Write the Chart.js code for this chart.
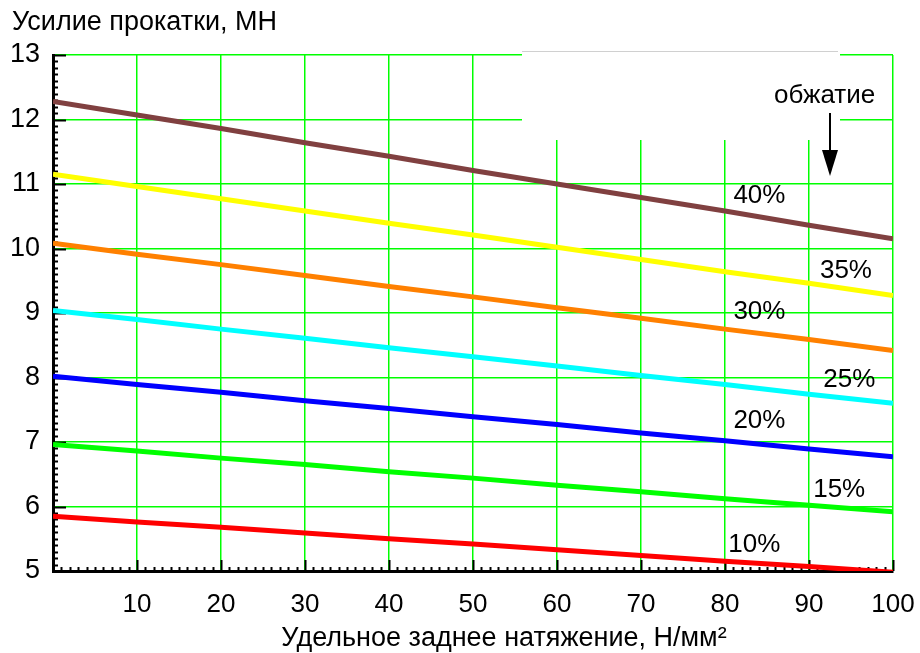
<!DOCTYPE html>
<html lang="ru">
<head>
<meta charset="utf-8">
<title>Усилие прокатки</title>
<script src="https://cdn.jsdelivr.net/npm/chart.js@4"></script>
<style>
  html, body { margin: 0; padding: 0; background: #fff; }
  #wrap { width: 920px; height: 653px; position: relative; }
</style>
</head>
<body>
<div id="wrap"><canvas id="chart"></canvas></div>
<script>
// Удельное заднее натяжение, Н/мм2
const X_VALUES = [0, 10, 20, 30, 40, 50, 60, 70, 80, 90, 100];

// Усилие прокатки, МН, per reduction
const SERIES_NAMES = ["10%", "15%", "20%", "25%", "30%", "35%", "40%"];
const FORCE_10 = [5.85, 5.76, 5.68, 5.59, 5.50, 5.42, 5.33, 5.24, 5.15, 5.07, 4.98];
const FORCE_15 = [6.96, 6.86, 6.75, 6.65, 6.54, 6.44, 6.33, 6.23, 6.12, 6.02, 5.92];
const FORCE_20 = [8.02, 7.89, 7.77, 7.64, 7.52, 7.39, 7.27, 7.14, 7.02, 6.89, 6.77];
const FORCE_25 = [9.04, 8.90, 8.75, 8.61, 8.46, 8.32, 8.18, 8.03, 7.89, 7.74, 7.60];
const FORCE_30 = [10.08, 9.91, 9.75, 9.58, 9.41, 9.25, 9.08, 8.92, 8.75, 8.59, 8.42];
const FORCE_35 = [11.15, 10.96, 10.77, 10.58, 10.39, 10.21, 10.02, 9.83, 9.64, 9.46, 9.27];
const FORCE_40 = [12.28, 12.07, 11.86, 11.64, 11.43, 11.21, 11.00, 10.79, 10.58, 10.36, 10.15];

const SERIES_COLORS = ["#ff0000", "#00ff00", "#0000ff", "#00ffff", "#ff8000", "#ffff00", "#804040"];

// where the % labels sit, in axis units (left edge, baseline)
const LABEL_X = [80.4, 90.5, 81, 91.7, 81, 91.3, 81];
const LABEL_Y = [5.29, 6.15, 7.21, 7.85, 8.90, 9.54, 10.71];

const FONT = "'Liberation Sans', Arial, sans-serif";

const allSeries = [FORCE_10, FORCE_15, FORCE_20, FORCE_25, FORCE_30, FORCE_35, FORCE_40];

const datasets = allSeries.map((vals, i) => ({
  label: SERIES_NAMES[i],
  data: X_VALUES.map((x, j) => ({ x: x, y: vals[j] })),
  borderColor: SERIES_COLORS[i],
  backgroundColor: SERIES_COLORS[i],
  borderWidth: 5,
  pointRadius: 0,
  tension: 0
}));

const decor = {
  id: "decor",
  beforeDatasetsDraw(chart) {
    const ctx = chart.ctx;
    const xs = chart.scales.x, ys = chart.scales.y;
    const area = chart.chartArea;
    ctx.save();

    // white patch over the grid, top right
    ctx.fillStyle = "#fff";
    ctx.fillRect(522, 51, 318, 89);
    ctx.strokeStyle = "#d0d0d0";
    ctx.lineWidth = 1;
    ctx.beginPath();
    ctx.moveTo(522, 51.5);
    ctx.lineTo(838, 51.5);
    ctx.stroke();

    // ticks on the axes
    ctx.strokeStyle = "#000";
    ctx.lineWidth = 2;
    ctx.beginPath();
    for (let k = 0; k <= 80; k++) {
      const y = Math.round(ys.getPixelForValue(5 + k / 10)) + 0.5;
      const major = k % 10 === 0;
      ctx.moveTo(area.left, y);
      ctx.lineTo(area.left + (major ? 13 : 5), y);
    }
    for (let v = 0; v <= 100; v += 1) {
      const x = Math.round(xs.getPixelForValue(v)) + 0.5;
      const major = v % 10 === 0;
      ctx.moveTo(x, area.bottom);
      ctx.lineTo(x, area.bottom - (major ? 11 : 4));
    }
    ctx.stroke();
    ctx.restore();
  },
  afterDatasetsDraw(chart) {
    const ctx = chart.ctx;
    const xs = chart.scales.x, ys = chart.scales.y;
    ctx.save();
    ctx.fillStyle = "#000";
    ctx.textBaseline = "alphabetic";
    ctx.textAlign = "left";

    ctx.font = "26px " + FONT;
    SERIES_NAMES.forEach((name, i) => {
      ctx.fillText(name, xs.getPixelForValue(LABEL_X[i]), ys.getPixelForValue(LABEL_Y[i]));
    });

    ctx.font = "26px " + FONT;
    ctx.fillText("обжатие", 774, 103);

    // arrow
    ctx.strokeStyle = "#000";
    ctx.lineWidth = 2;
    ctx.beginPath();
    ctx.moveTo(830, 113);
    ctx.lineTo(830, 152);
    ctx.stroke();
    ctx.beginPath();
    ctx.moveTo(822, 150);
    ctx.lineTo(838, 150);
    ctx.lineTo(830, 176);
    ctx.closePath();
    ctx.fill();

    // titles
    ctx.font = "27px " + FONT;
    ctx.fillText("Усилие прокатки, МН", 12, 30);
    ctx.textAlign = "center";
    ctx.fillText("Удельное заднее натяжение, Н/мм²", 504, 646);
    ctx.restore();
  }
};

new Chart(document.getElementById("chart"), {
  type: "line",
  data: { datasets },
  options: {
    responsive: true,
    maintainAspectRatio: false,
    animation: false,
    layout: { padding: { top: 55, right: 27, left: 0, bottom: 0 } },
    plugins: {
      legend: { display: false },
      tooltip: { enabled: false }
    },
    scales: {
      x: {
        type: "linear",
        min: 0,
        max: 100,
        afterFit: s => { s.height = 82; s.paddingLeft = 0; s.paddingRight = 0; },
        ticks: {
          stepSize: 10,
          color: "#000",
          padding: 18,
          font: { family: FONT, size: 26 },
          callback: v => (v === 0 ? "" : v)
        },
        grid: { color: "#00ff00", lineWidth: 1.5, drawTicks: false },
        border: { color: "#000", width: 3 }
      },
      y: {
        min: 5,
        max: 13,
        afterFit: s => { s.width = 53; s.paddingTop = 0; s.paddingBottom = 0; },
        ticks: {
          stepSize: 1,
          color: "#000",
          padding: 13,
          font: { family: FONT, size: 27 }
        },
        grid: { color: "#00ff00", lineWidth: 1.5, drawTicks: false },
        border: { color: "#000", width: 3 }
      }
    }
  },
  plugins: [decor]
});
</script>
</body>
</html>
